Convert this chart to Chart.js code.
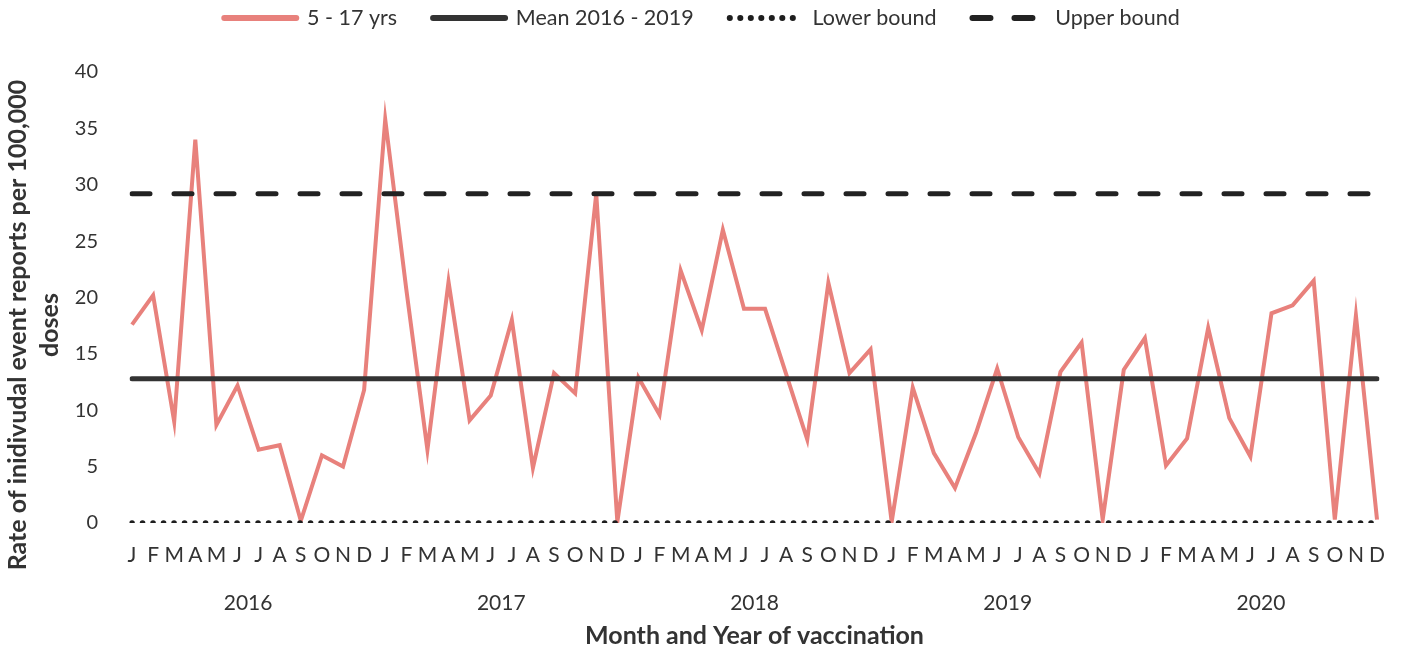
<!DOCTYPE html>
<html>
<head>
<meta charset="utf-8">
<script src="https://cdn.jsdelivr.net/npm/chart.js@4/dist/chart.umd.min.js"></script>
<style>
  html, body { margin: 0; padding: 0; background: #ffffff; }
  #wrap { width: 1405px; height: 651px; position: relative; }
</style>
</head>
<body>
<div id="wrap"><canvas id="chart"></canvas></div>
<script>
// ---- data ----
const monthLetters = ['J','F','M','A','M','J','J','A','S','O','N','D'];
const years = ['2016','2017','2018','2019','2020'];
const yTickValues = [0, 5, 10, 15, 20, 25, 30, 35, 40];

const rate5to17 = [
  17.6, 20.2, 9.0, 34.0, 8.7, 12.2, 6.5, 6.9, 0.2, 6.0, 5.0, 11.8,   // 2016
  35.8, 20.7, 6.5, 21.4, 9.1, 11.3, 18.0, 4.9, 13.3, 11.5, 29.2, 0.1,  // 2017
  12.9, 9.6, 22.4, 17.1, 26.0, 19.0, 19.0, 13.2, 7.4, 21.3, 13.3, 15.4, // 2018
  0.1, 12.0, 6.2, 3.1, 8.0, 13.7, 7.6, 4.4, 13.4, 16.0, 0.3, 13.6,     // 2019
  16.4, 5.1, 7.5, 17.3, 9.3, 5.9, 18.6, 19.3, 21.5, 0.3, 18.4, 0.3     // 2020
];
const meanLevel = 12.8;        // Mean 2016 - 2019
const lowerBoundLevel = 0;     // Lower bound
const upperBoundLevel = 29.2;  // Upper bound

const seriesNames = ['5 - 17 yrs', 'Mean 2016 - 2019', 'Lower bound', 'Upper bound'];
const yTitleLines = ['Rate of inidivudal event reports per 100,000', 'doses'];
const xTitle = 'Month and Year of vaccination';

// ---- build ----
const categories = [];
years.forEach(() => monthLetters.forEach(m => categories.push(m)));
const meanLine = categories.map(() => meanLevel);
const lowerLine = categories.map(() => lowerBoundLevel);
const upperLine = categories.map(() => upperBoundLevel);
const yearTickPositions = years.map((y, i) => i * 12 + 5.5);

const FONT = 'Lato';
const TEXT = '#333333';
const LEGEND_FONT = 21.5;
const LEGEND_CENTER_Y = 18;
const LEGEND_SHIFT_X = 13;
const legendLineWidths = [6, 6, 6, 6];

const layoutTweaksPlugin = {
  id: 'layoutTweaks',
  afterLayout(chart) {
    const L = chart.legend;
    if (L) {
      const pad = L.options.labels.padding;
      const h = L.height;
      L.top = LEGEND_CENTER_Y - pad - LEGEND_FONT / 2;
      L.bottom = L.top + h;
      L.left += LEGEND_SHIFT_X;
      L.right += LEGEND_SHIFT_X;
    }
  },
  afterDraw(chart) {
    const ctx = chart.ctx;
    ctx.save();
    ctx.fillStyle = TEXT;
    ctx.font = 'bold 25px ' + FONT;
    ctx.textAlign = 'center';
    ctx.textBaseline = 'middle';
    ctx.translate(18, 325);
    ctx.rotate(-Math.PI / 2);
    ctx.fillText(yTitleLines[0], 0, 0);
    ctx.fillText(yTitleLines[1], 0, 32);
    ctx.restore();
  }
};

new Chart(document.getElementById('chart'), {
  type: 'line',
  data: {
    labels: categories,
    datasets: [
      { label: seriesNames[0], data: rate5to17, borderColor: '#E8817C', backgroundColor: '#E8817C',
        borderWidth: 4, pointRadius: 0, tension: 0, order: 1 },
      { label: seriesNames[1], data: meanLine, borderColor: '#333333', backgroundColor: '#333333',
        borderWidth: 5, pointRadius: 0, borderCapStyle: 'round', order: 0 },
      { label: seriesNames[2], data: lowerLine, borderColor: '#1e1e1e', backgroundColor: '#1e1e1e',
        borderWidth: 5.5, pointRadius: 0, borderDash: [0.1, 10.4], borderCapStyle: 'round', order: 0 },
      { label: seriesNames[3], data: upperLine, borderColor: '#222222', backgroundColor: '#222222',
        borderWidth: 5, pointRadius: 0, borderDash: [18, 24], borderCapStyle: 'round', order: 0 }
    ]
  },
  options: {
    responsive: true,
    maintainAspectRatio: false,
    animation: false,
    layout: { padding: { top: 0, left: 0, right: 27, bottom: 0 } },
    plugins: {
      tooltip: { enabled: false },
      legend: {
        position: 'top',
        align: 'center',
        labels: {
          usePointStyle: true,
          pointStyle: 'line',
          pointStyleWidth: 72,
          padding: 36,
          color: TEXT,
          font: { family: FONT, size: LEGEND_FONT },
          generateLabels(chart) {
            return chart.data.datasets.map((ds, i) => ({
              text: ds.label,
              datasetIndex: i,
              fillStyle: ds.borderColor,
              strokeStyle: ds.borderColor,
              fontColor: TEXT,
              lineWidth: legendLineWidths[i],
              lineDash: ds.borderDash || [],
              lineCap: 'round',
              pointStyle: 'line',
              hidden: false
            }));
          }
        }
      }
    },
    scales: {
      x: {
        type: 'category',
        position: 'bottom',
        offset: false,
        grid: { display: false, drawTicks: false },
        border: { display: false },
        ticks: { color: TEXT, font: { family: FONT, size: 21 }, padding: 20, autoSkip: false, maxRotation: 0 },
        afterFit(s) { s.height = 45; }
      },
      years: {
        type: 'linear',
        position: 'bottom',
        weight: 1,
        min: 0,
        max: categories.length - 1,
        grid: { display: false, drawTicks: false },
        border: { display: false },
        afterBuildTicks(s) { s.ticks = yearTickPositions.map(v => ({ value: v })); },
        ticks: {
          color: TEXT, font: { family: FONT, size: 21 }, padding: 23, autoSkip: false, maxRotation: 0,
          callback: (v) => years[Math.round((v - 5.5) / 12)]
        },
        title: { display: true, text: xTitle, color: TEXT, font: { family: FONT, size: 25, weight: 'bold' }, padding: { top: 0, bottom: 0 } },
        afterFit(s) { s.height = 83; }
      },
      y: {
        min: 0,
        max: 40,
        grid: { display: false, drawTicks: false },
        border: { display: false },
        afterBuildTicks(s) { s.ticks = yTickValues.map(v => ({ value: v })); },
        ticks: { color: TEXT, font: { family: FONT, size: 20 }, padding: 34 },
        afterFit(s) { s.width = 132; s.paddingTop = 72; }
      }
    }
  },
  plugins: [layoutTweaksPlugin]
});
</script>
</body>
</html>
